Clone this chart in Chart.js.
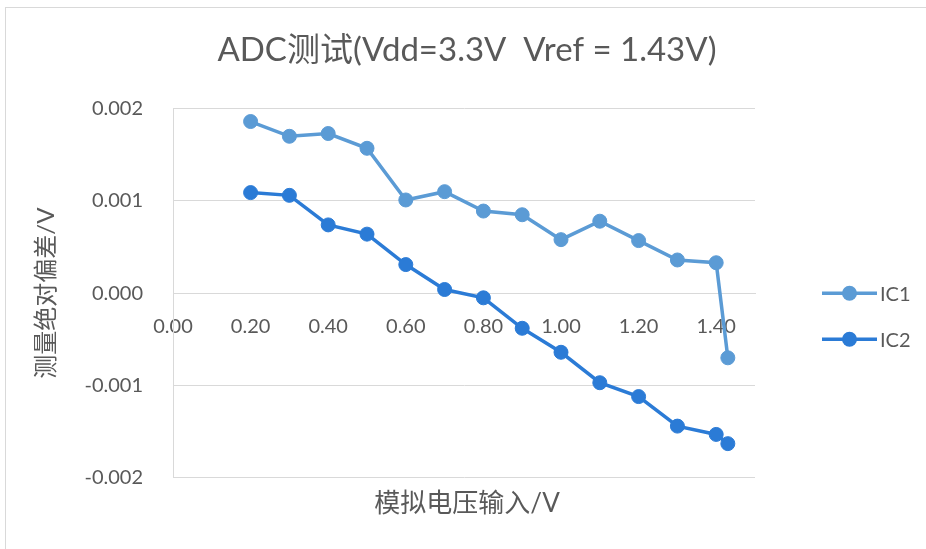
<!DOCTYPE html>
<html>
<head>
<meta charset="utf-8">
<script src="https://cdn.jsdelivr.net/npm/chart.js@4/dist/chart.umd.min.js"></script>
<style>
  html, body { margin: 0; padding: 0; background: #ffffff; }
  #wrap { width: 926px; height: 549px; }
</style>
</head>
<body>
<div id="wrap"><canvas id="c" width="926" height="549"></canvas></div>
<script>
// ---- data ----
const xValues = [0.2, 0.3, 0.4, 0.5, 0.6, 0.7, 0.8, 0.9, 1.0, 1.1, 1.2, 1.3, 1.4, 1.43];
const ic1 = [0.00186, 0.00170, 0.00173, 0.00157, 0.00101, 0.00110, 0.00089, 0.00085, 0.00058, 0.00078, 0.00057, 0.00036, 0.00033, -0.00070];
const ic2 = [0.00109, 0.00106, 0.00074, 0.00064, 0.00031, 0.00004, -0.00005, -0.00038, -0.00064, -0.00097, -0.00112, -0.00144, -0.00153, -0.00163];
const seriesNames = ['IC1', 'IC2'];
const xTickValues = [0, 0.2, 0.4, 0.6, 0.8, 1.0, 1.2, 1.4];
const yTickValues = [-0.002, -0.001, 0, 0.001, 0.002];
const titleText = 'ADC测试(Vdd=3.3V  Vref = 1.43V)';
const xTitle = '模拟电压输入/V';
const yTitle = '测量绝对偏差/V';

const FONT = "Lato, 'Noto Sans CJK SC', sans-serif";
const TXT = '#595959';
const GRID = '#d9d9d9';
const colors = ['#5B9BD5', '#2B7BD6'];

function pts(ys) { return xValues.map((x, i) => ({ x: x, y: ys[i] })); }

const borderPlugin = {
  id: 'outerBorder',
  beforeDraw(chart) {
    const ctx = chart.ctx;
    ctx.save();
    ctx.strokeStyle = GRID;
    ctx.lineWidth = 1;
    ctx.strokeRect(5.5, 7.5, chart.width + 10, chart.height + 10);
    ctx.restore();
  }
};

const legendPlugin = {
  id: 'sideLegend',
  afterDraw(chart) {
    const ctx = chart.ctx;
    const ca = chart.chartArea;
    const x0 = ca.right + 67, x1 = ca.right + 122, xm = (x0 + x1) / 2;
    const yc = chart.scales.y.getPixelForValue(0);
    ctx.save();
    chart.data.datasets.forEach((ds, i) => {
      const y = yc + i * 46;
      ctx.strokeStyle = ds.borderColor;
      ctx.lineWidth = 3.5;
      ctx.beginPath(); ctx.moveTo(x0, y); ctx.lineTo(x1, y); ctx.stroke();
      ctx.fillStyle = ds.backgroundColor;
      ctx.beginPath(); ctx.arc(xm, y, 7.5, 0, Math.PI * 2); ctx.fill();
      ctx.fillStyle = TXT;
      ctx.font = '20px ' + FONT;
      ctx.textBaseline = 'middle';
      ctx.textAlign = 'left';
      ctx.fillText(ds.label, x1 + 3, y + 1);
    });
    ctx.restore();
  }
};

new Chart(document.getElementById('c'), {
  type: 'scatter',
  data: {
    datasets: [ic1, ic2].map((ys, i) => ({
      label: seriesNames[i],
      data: pts(ys),
      showLine: true,
      borderColor: colors[i],
      backgroundColor: colors[i],
      borderWidth: 3.5,
      pointRadius: 7,
      pointBorderWidth: 1,
      pointBorderColor: colors[i],
      pointBackgroundColor: colors[i],
      tension: 0,
      clip: false
    }))
  },
  options: {
    responsive: false,
    animation: false,
    devicePixelRatio: 1,
    layout: { padding: { left: 8, right: 0, top: 0, bottom: 0 } },
    plugins: {
      legend: { display: false },
      tooltip: { enabled: false },
      title: {
        display: true,
        text: titleText,
        color: TXT,
        font: { family: FONT, size: 33, weight: 'normal', lineHeight: 1.2 },
        padding: { top: 31, bottom: 38 }
      },
      subtitle: {
        display: true,
        position: 'bottom',
        text: xTitle,
        color: TXT,
        font: { family: FONT, size: 26, weight: 'normal', lineHeight: 1.2 },
        padding: { top: 10, bottom: 30 }
      }
    },
    scales: {
      x: {
        type: 'linear',
        position: { y: 0 },
        min: 0,
        max: 1.5,
        afterFit(scale) { scale.height = 0; },
        afterBuildTicks(scale) { scale.ticks = xTickValues.map(v => ({ value: v })); },
        ticks: {
          color: TXT,
          font: { family: FONT, size: 20 },
          padding: 21,
          maxRotation: 0,
          autoSkip: false,
          callback: (v) => Number(v).toFixed(2)
        },
        grid: { display: false, drawTicks: false },
        border: { display: true, color: GRID, width: 1 }
      },
      y: {
        type: 'linear',
        min: -0.002,
        max: 0.002,
        afterFit(scale) { scale.width = 165; },
        afterBuildTicks(scale) { scale.ticks = yTickValues.map(v => ({ value: v })); },
        ticks: {
          color: TXT,
          font: { family: FONT, size: 20 },
          padding: 30,
          callback: (v) => Number(v).toFixed(3)
        },
        grid: { color: GRID, lineWidth: 1, drawTicks: false },
        border: { display: true, color: GRID, width: 1 },
        title: {
          display: true,
          text: yTitle,
          color: TXT,
          font: { family: FONT, size: 24, weight: 'normal', lineHeight: 1.2 },
          padding: { top: 24, bottom: 0 }
        }
      },
      yRightSpace: {
        type: 'linear',
        position: 'right',
        display: true,
        min: -0.002,
        max: 0.002,
        afterFit(scale) { scale.width = 171; },
        ticks: { display: false },
        grid: { display: false, drawTicks: false },
        border: { display: false }
      }
    }
  },
  plugins: [borderPlugin, legendPlugin]
});
</script>
</body>
</html>
